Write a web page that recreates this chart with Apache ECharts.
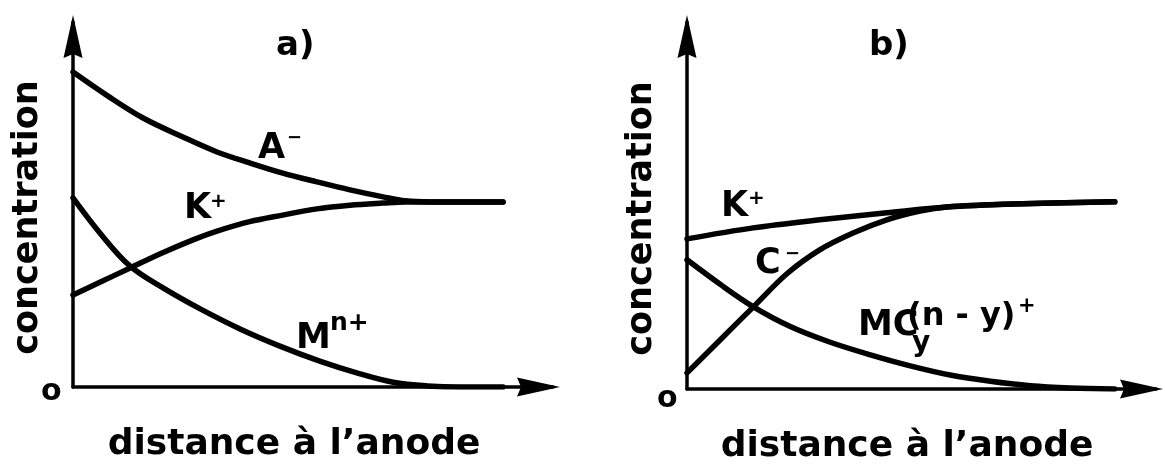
<!DOCTYPE html>
<html>
<head>
<meta charset="utf-8">
<script src="https://cdn.jsdelivr.net/npm/echarts@6/dist/echarts.min.js"></script>
<style>
  html, body { margin: 0; padding: 0; background: #fff; }
  #chart { width: 1165px; height: 468px; }
</style>
</head>
<body>
<div id="chart"></div>
<script>
// Concentration profiles versus distance from the anode (arbitrary units, 0–10)

// a) anion A-, cation K+, metal ion M n+
const distA_anion = [0, 0.73, 1.46, 2.29, 3.00, 3.68, 4.37, 5.08, 5.77, 6.46, 6.92, 7.44, 8.96];
const concA_anion = [8.63, 7.97, 7.37, 6.85, 6.44, 6.14, 5.86, 5.62, 5.40, 5.21, 5.10, 5.07, 5.07];

const distA_K = [0, 0.56, 1.19, 1.82, 2.50, 3.00, 3.68, 4.37, 5.08, 5.77, 6.46, 6.92, 7.44, 8.96];
const concA_K = [2.52, 2.87, 3.26, 3.65, 4.03, 4.27, 4.53, 4.71, 4.88, 4.98, 5.04, 5.07, 5.07, 5.07];

const distA_M = [0, 0.56, 1.19, 1.92, 2.65, 3.48, 4.31, 5.14, 5.98, 6.67, 7.38, 8.07, 8.96];
const concA_M = [5.18, 4.22, 3.31, 2.68, 2.14, 1.59, 1.12, 0.71, 0.36, 0.13, 0.03, 0.0, 0.0];

// b) cation K+, complexing anion C-, complex MCy (n-y)+
const distB_K = [0, 1.41, 2.83, 4.26, 5.54, 6.95, 9.12];
const concB_K = [4.09, 4.39, 4.61, 4.80, 4.96, 5.04, 5.10];

const distB_C = [0, 0.70, 1.41, 2.13, 2.83, 3.54, 4.26, 4.97, 5.54, 6.95, 9.12];
const concB_C = [0.44, 1.33, 2.23, 3.14, 3.79, 4.25, 4.61, 4.85, 4.96, 5.04, 5.10];

const distB_MC = [0, 0.70, 1.39, 2.19, 3.04, 3.91, 4.76, 5.61, 6.47, 7.32, 8.17, 9.12];
const concB_MC = [3.52, 2.86, 2.26, 1.71, 1.28, 0.93, 0.63, 0.38, 0.21, 0.09, 0.03, 0.0];

const xAxisTitle = 'distance à l\u2019anode';
const yAxisTitle = 'concentration';
const originLabel = 'o';

const FONT = '"DejaVu Sans", "Liberation Sans", sans-serif';
const INK = '#000';
// arrow head (19 x 43) pointing along the axis, slightly hollowed at the back
const ARROW = 'path://M9.5,0 L19,43 L9.5,39 L0,43 Z';
const ARROW_W = 19;
const ARROW_LEN = 43;
const ARROW_TIP_OVERHANG = 7;

const pairs = (xs, ys) => xs.map((x, i) => [x, ys[i]]);

function axisPair(gridIndex) {
  const line = {
    show: true,
    symbol: ['none', ARROW],
    symbolSize: [ARROW_W, ARROW_LEN],
    // the head sits over the end of the line, its tip a little beyond it
    symbolOffset: [0, -ARROW_LEN / 2 + ARROW_TIP_OVERHANG],
    lineStyle: { color: INK, width: 3.5 }
  };
  return {
    x: {
      type: 'value', gridIndex, min: 0, max: 10,
      axisLine: line, axisTick: { show: false }, axisLabel: { show: false },
      splitLine: { show: false }
    },
    y: {
      type: 'value', gridIndex, min: 0, max: 10,
      axisLine: line, axisTick: { show: false }, axisLabel: { show: false },
      splitLine: { show: false },
      name: yAxisTitle, nameLocation: 'middle', nameRotate: 90, nameGap: 28,
      nameTextStyle: {
        fontFamily: FONT, fontWeight: 'bold', fontSize: 35, color: INK,
        padding: [0, 26, 0, 0]
      }
    }
  };
}

const axA = axisPair(0);
const axB = axisPair(1);

function curve(name, xi, xs, ys) {
  return {
    name, type: 'line', xAxisIndex: xi, yAxisIndex: xi,
    data: pairs(xs, ys),
    showSymbol: false, smooth: 0.35,
    lineStyle: { color: INK, width: 5.5, cap: 'round', join: 'round' },
    silent: true, animation: false
  };
}

function txt(text, x, y, size, align) {
  return {
    type: 'text', x, y, silent: true,
    style: {
      text, fill: INK,
      font: 'bold ' + size + 'px ' + FONT,
      textAlign: align || 'left', textVerticalAlign: 'middle',
      align: align || 'left', verticalAlign: 'middle'
    }
  };
}

const option = {
  backgroundColor: '#fff',
  animation: false,
  title: [
    { text: 'a)', left: 271, top: 24, textStyle: { fontFamily: FONT, fontWeight: 'bold', fontSize: 34, color: INK } },
    { text: 'b)', left: 864, top: 24, textStyle: { fontFamily: FONT, fontWeight: 'bold', fontSize: 34, color: INK } }
  ],
  grid: [
    { left: 73, top: 22, right: 612, bottom: 81 },
    { left: 687, top: 22, right: 9, bottom: 79 }
  ],
  xAxis: [axA.x, axB.x],
  yAxis: [axA.y, axB.y],
  series: [
    curve('A-', 0, distA_anion, concA_anion),
    curve('K+', 0, distA_K, concA_K),
    curve('Mn+', 0, distA_M, concA_M),
    curve('K+', 1, distB_K, concB_K),
    curve('C-', 1, distB_C, concB_C),
    curve('MCy(n-y)+', 1, distB_MC, concB_MC)
  ],
  graphic: [
    // horizontal axis titles
    txt(xAxisTitle, 294, 445, 36, 'center'),
    txt(xAxisTitle, 907, 447, 36, 'center'),
    // origins
    txt(originLabel, 41, 392, 30),
    txt(originLabel, 657, 399, 30),
    // panel a labels
    txt('A', 258, 149, 35),
    txt('\u2212', 287, 138, 18),
    txt('K', 184, 209, 35),
    txt('+', 210, 202, 20),
    txt('M', 296, 339, 35),
    txt('n+', 330, 323, 25),
    // panel b labels
    txt('K', 721, 207, 35),
    txt('+', 748, 199, 20),
    txt('C', 755, 264, 35),
    txt('\u2212', 785, 254, 18),
    txt('MC', 858, 326, 35),
    txt('y', 912, 344, 28),
    txt('(n - y)', 907, 317, 32),
    txt('+', 1018, 307, 21)
  ]
};

const chart = echarts.init(document.getElementById('chart'), null, { renderer: 'canvas' });
chart.setOption(option);
</script>
</body>
</html>
